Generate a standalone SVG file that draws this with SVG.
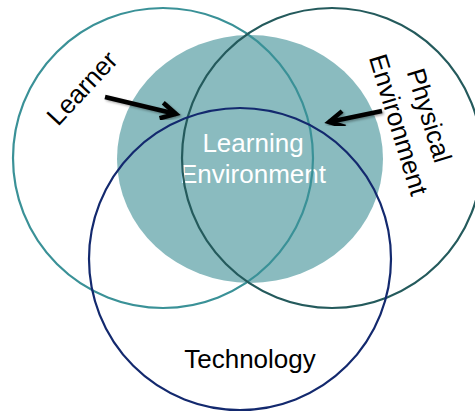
<svg xmlns="http://www.w3.org/2000/svg" width="475" height="413" viewBox="0 0 475 413">
  <defs>
    <style>
      .ring { fill: none; stroke-width: 2.2; }
      .lbl { font-family: "Liberation Sans", Arial, sans-serif; font-size: 26px; fill: #000; text-anchor: middle; }
      .inner { fill: #ffffff; }
      .arrow { stroke: #000; stroke-width: 4.5; fill: none; filter: url(#shadow); }
    </style>
    <filter id="shadow" x="-30%" y="-30%" width="160%" height="160%">
      <feDropShadow dx="1.5" dy="1.5" stdDeviation="1.2" flood-color="#000" flood-opacity="0.35"/>
    </filter>
    <marker id="head" markerUnits="userSpaceOnUse" markerWidth="30" markerHeight="30" viewBox="-20 -15 30 30" refX="0" refY="0" orient="auto" overflow="visible">
      <path d="M -15 -8 L 0 0 L -15 8" fill="none" stroke="#000" stroke-width="4.5" stroke-linejoin="miter"/>
    </marker>
  </defs>
  <rect width="475" height="413" fill="#ffffff"/>

  <g id="learning-environment">
    <ellipse cx="250" cy="159" rx="133" ry="124" fill="#8abbbf"/>
    <text class="lbl inner" x="253" y="152">Learning</text>
    <text class="lbl inner" x="253" y="183">Environment</text>
  </g>

  <g id="learner">
    <circle class="ring" cx="163" cy="158" r="150" stroke="#3a9197"/>
    <text class="lbl" transform="translate(82,88) rotate(-47)" x="0" y="9">Learner</text>
  </g>

  <g id="physical-environment">
    <circle class="ring" cx="332" cy="158" r="150" stroke="#245a5c"/>
    <g transform="translate(414,120) rotate(73)">
      <text class="lbl" x="0" y="-7">Physical</text>
      <text class="lbl" x="0" y="25">Environment</text>
    </g>
  </g>

  <g id="technology">
    <circle class="ring" cx="240" cy="259" r="151" stroke="#13296e"/>
    <text class="lbl" x="250" y="368">Technology</text>
  </g>

  <g id="connectors">
    <line class="arrow" x1="105" y1="97" x2="176" y2="114" marker-end="url(#head)"/>
    <line class="arrow" x1="382" y1="111" x2="329" y2="122" marker-end="url(#head)"/>
    <line class="arrow" x1="245" y1="330" x2="245" y2="249" marker-end="url(#head)"/>
  </g>
</svg>
